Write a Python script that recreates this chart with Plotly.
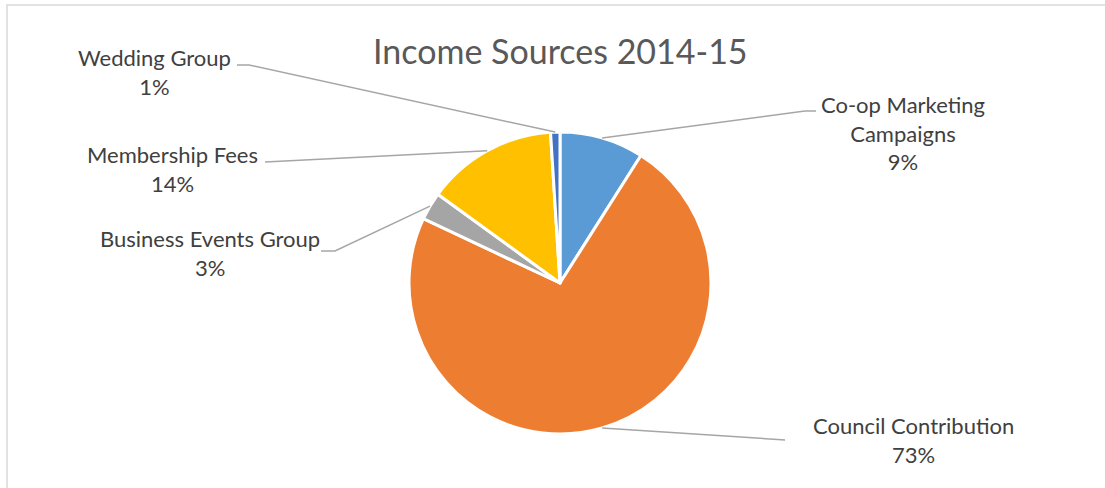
import math
import plotly.graph_objects as go

# ---- data ----
categories = ["Co-op Marketing<br>Campaigns", "Council Contribution", "Business Events Group",
              "Membership Fees", "Wedding Group"]
values = [9, 73, 3, 14, 1]
pct_labels = ["9%", "73%", "3%", "14%", "1%"]
colors = ["#5B9BD5", "#ED7D31", "#A5A5A5", "#FFC000", "#4472C4"]
title_text = "Income Sources 2014-15"

# ---- layout (pixels) ----
W, H = 1105, 488
cx, cy, R = 560, 283, 151
# label centre positions and leader-line elbow points (pixels)
label_pos = [(903, 133), (914, 440), (210, 253), (172, 169), (154, 72)]
elbows = [[(805, 111), (816, 111)], [(785, 440)], [(335, 251), (321, 251)],
          [(265, 162)], [(249, 65), (237, 65)]]

def px(x):
    return x / W

def py(y):
    return 1 - y / H

fig = go.Figure(go.Pie(
    labels=[c.replace("<br>", " ") for c in categories],
    values=values,
    sort=False,
    direction="clockwise",
    rotation=0,
    marker=dict(colors=colors, line=dict(color="white", width=3)),
    textinfo="none",
    hoverinfo="label+percent",
    showlegend=False,
    domain=dict(x=[px(cx - R), px(cx + R)], y=[py(cy + R), py(cy - R)]),
))

shapes = [dict(type="rect", xref="paper", yref="paper",
               x0=px(7), x1=px(W + 10), y0=py(H + 10), y1=py(5),
               line=dict(color="#D9D9D9", width=1.5), fillcolor="rgba(0,0,0,0)", layer="below")]
annotations = []
total = sum(values)
cum = 0
for i, v in enumerate(values):
    mid = (cum + v / 2) / total * 2 * math.pi
    cum += v
    sx = cx + R * math.sin(mid)
    sy = cy - R * math.cos(mid)
    pts = [(sx, sy)] + elbows[i]
    path = "M " + " L ".join(f"{px(x):.5f},{py(y):.5f}" for x, y in pts)
    shapes.append(dict(type="path", xref="paper", yref="paper", path=path,
                       line=dict(color="#A6A6A6", width=1.5)))
    lx, ly = label_pos[i]
    annotations.append(dict(x=px(lx), y=py(ly), xref="paper", yref="paper",
                            text=f"{categories[i]}<br>{pct_labels[i]}", showarrow=False,
                            xanchor="center", yanchor="middle", align="center",
                            font=dict(family="Lato, Carlito, Calibri, sans-serif", size=22, color="#404040")))

annotations.append(dict(x=px(560), y=py(50), xref="paper", yref="paper", text=title_text,
                        showarrow=False, xanchor="center", yanchor="middle",
                        font=dict(family="Lato, Carlito, Calibri, sans-serif", size=34, color="#595959")))

fig.update_layout(width=W, height=H, margin=dict(l=0, r=0, t=0, b=0),
                  paper_bgcolor="white", plot_bgcolor="white",
                  shapes=shapes, annotations=annotations)
fig.write_html("out.html", config={"displayModeBar": False},
               post_script="document.body.style.margin='0';")
